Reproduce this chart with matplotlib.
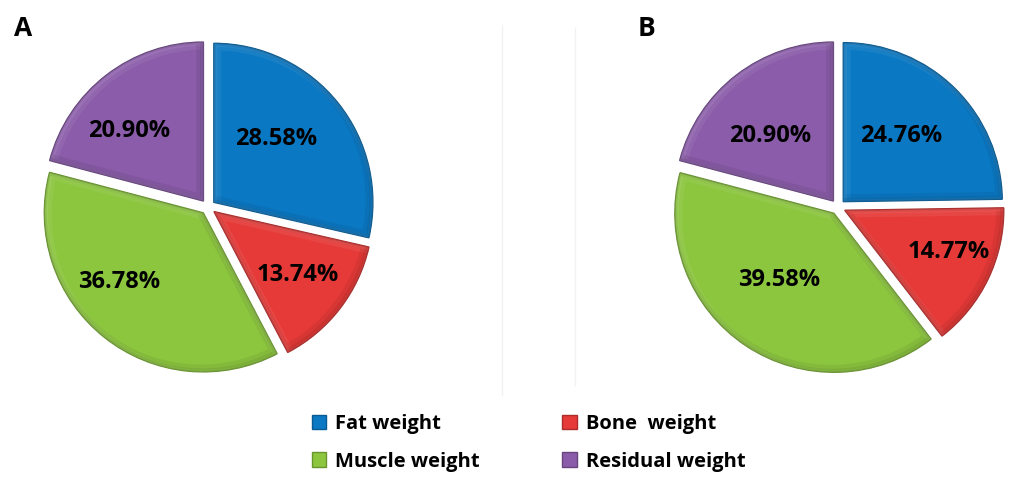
import matplotlib.pyplot as plt
from matplotlib.patches import Patch, PathPatch
from matplotlib.transforms import offset_copy
import matplotlib.colors as mcolors

plt.rcParams['font.family'] = ['Open Sans', 'DejaVu Sans']

categories = ["Fat weight", "Bone  weight", "Muscle weight", "Residual weight"]
values_a = [28.58, 13.74, 36.78, 20.90]
values_b = [24.76, 14.77, 39.58, 20.90]
panel_labels = ["A", "B"]
colors = ["#0B78C3", "#E53A38", "#8CC63F", "#8A5CA9"]

W, H = 1019, 484
fig = plt.figure(figsize=(W / 100, H / 100), dpi=100)
ax = fig.add_axes([0, 0, 1, 1])

R = 159
GAP = 7.5
centers = [(208, H - 207), (838, H - 207)]
# per-slice nudges of the percentage labels (pixels, x right / y up)
nudges = [
    [(-15, 2), (6, -3), (-23, 8), (-14, -8)],
    [(-11, -5), (15, 1), (0, 15), (-3, -13)],
]


def shade(c, f):
    r, g, b = mcolors.to_rgb(c)
    if f <= 1:
        return (r * f, g * f, b * f)
    t = f - 1
    return (r + (1 - r) * t, g + (1 - g) * t, b + (1 - b) * t)


def bevel(w, c):
    """Soft light/dark rims inside a wedge for a raised look."""
    tr = w.get_transform()
    layers = [
        (shade(c, 1.35), 2.5, -2.5, 7, 0.18),
        (shade(c, 1.35), 1.5, -1.5, 3, 0.22),
        (shade(c, 0.65), -2.5, 2.5, 7, 0.16),
        (shade(c, 0.65), -1.5, 1.5, 3, 0.2),
    ]
    for col, dx, dy, lw, alpha in layers:
        p = PathPatch(w.get_path(), facecolor="none", edgecolor=col, lw=lw,
                      alpha=alpha, joinstyle="round",
                      transform=offset_copy(tr, fig=fig, x=dx, y=dy, units="dots"))
        ax.add_patch(p)
        p.set_clip_path(w)


def draw_pie(values, center, offs):
    wedges, _, autotexts = ax.pie(
        values, colors=colors, startangle=90, counterclock=False,
        explode=[GAP] * len(values), radius=R, center=center,
        autopct=lambda p: f"{p:.2f}%", pctdistance=0.62,
        wedgeprops=dict(linewidth=1.0),
        textprops=dict(fontsize=17, fontweight="bold", color="black", zorder=5),
        frame=True)
    for w, c in zip(wedges, colors):
        w.set_edgecolor(shade(c, 0.72))
        bevel(w, c)
    for t, (dx, dy) in zip(autotexts, offs):
        x, y = t.get_position()
        t.set_position((x + dx, y + dy))
    return wedges


for vals, ctr, offs in zip([values_a, values_b], centers, nudges):
    draw_pie(vals, ctr, offs)

ax.text(14, H - 29, panel_labels[0], fontsize=19, fontweight="bold", ha="left", va="center")
ax.text(638, H - 28, panel_labels[1], fontsize=19, fontweight="bold", ha="left", va="center")

# faint panel borders
ax.plot([502, 502], [H - 25, H - 395], color="#f2f2f2", lw=1)
ax.plot([575, 575], [H - 28, H - 385], color="#f2f2f2", lw=1)

handles = [Patch(facecolor=c, edgecolor=shade(c, 0.75)) for c in colors]
order = [0, 2, 1, 3]
fig.legend([handles[i] for i in order], [categories[i] for i in order],
           ncol=2, loc="center left", bbox_to_anchor=(294 / W, 1 - 443 / H),
           frameon=False, prop=dict(size=14.5, weight="bold"),
           handlelength=0.7, handleheight=0.7, handletextpad=0.45,
           columnspacing=4.1, labelspacing=0.85)

ax.set_xlim(0, W)
ax.set_ylim(0, H)
ax.set_aspect("equal")
ax.axis("off")

fig.savefig("out.png", dpi=100)
